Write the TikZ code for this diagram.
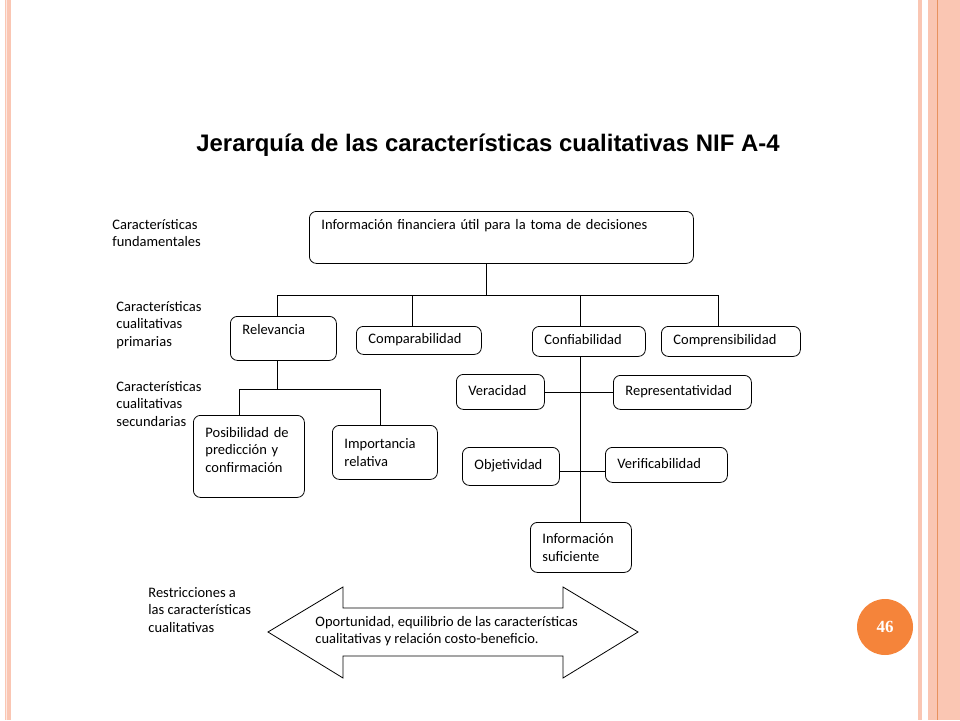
\documentclass[tikz,border=0pt]{standalone}
\usepackage{fontspec}
\setmainfont{Carlito}
\newfontfamily\titulo{Liberation Sans}
\newfontfamily\numero{Liberation Serif}
\definecolor{salmon}{HTML}{FAC6B3}
\definecolor{salmonosc}{HTML}{E8925F}
\definecolor{naranja}{HTML}{F5843A}
\tikzset{
  caja/.style={draw, rounded corners=7pt, anchor=north west, align=left, inner xsep=12pt, inner ysep=3pt},
  linea/.style={text height=10pt, text depth=3.5pt},
  etiqueta/.style={anchor=west, align=left, inner sep=0pt},
}

\begin{document}
\begin{tikzpicture}[x=1pt,y=-1pt,line width=0.8pt,font=\fontsize{14.5}{17.5}\selectfont]
\useasboundingbox (0,0) rectangle (960,720);

% bordes
\fill[salmon] (5,0) rectangle (11,720);
\draw[white!60!salmon] (6.5,0) -- (6.5,720);
\fill[salmon] (918,0) rectangle (922,720);
\fill[salmon] (928,0) rectangle (960,720);
\draw[salmonosc,line width=1pt] (937,0) -- (937,720);

\node[font=\titulo\bfseries\fontsize{23.9}{28}\selectfont] at (488,145) (titulo) {Jerarquía de las características cualitativas NIF A-4};

   \node[etiqueta] at (112,233) (fund) {Características\\fundamentales};
   \node[etiqueta] at (116,325) (prim) {Características\\cualitativas\\primarias};
   \node[etiqueta] at (116,404) (secu) {Características\\cualitativas\\secundarias};
   \node[etiqueta] at (148,610) (restr) {Restricciones a\\las características\\cualitativas};

   \node[caja, text width=360pt, minimum height=52pt, text height=10pt, text depth=25pt] at (309,211) (info) {Información financiera útil para la toma de decisiones};

   \node[caja, text width=82pt, minimum height=44pt, text height=10pt, text depth=17pt] at (230,316) (relev) {Relevancia};
   \node[caja, linea, text width=101pt, minimum height=28pt] at (356,326) (compar) {Comparabilidad};
   \node[caja, linea, text width=89pt, minimum height=30pt] at (532,326) (confia) {Confiabilidad};
   \node[caja, linea, text width=115pt, minimum height=30pt] at (661,326) (compren) {Comprensibilidad};

   \node[caja, text width=87pt, minimum height=82pt, text height=10pt, text depth=48pt] at (193,415) (posib) {Posibilidad de\\predicción y\\confirmación};
   \node[caja, text width=81pt, minimum height=54pt] at (332,425) (import) {Importancia\\relativa};

   \node[caja, linea, text width=64pt, minimum height=35pt] at (456,374) (verac) {Veracidad};
   \node[caja, linea, text width=114pt, minimum height=34pt] at (613,375) (repres) {Representatividad};
   \node[caja, linea, text width=73pt, minimum height=38pt] at (462,447) (objet) {Objetividad};
   \node[caja, linea, text width=98pt, minimum height=35pt] at (605,447) (verif) {Verificabilidad};
   \node[caja, text width=77pt, minimum height=50pt] at (530,522) (sufic) {Información\\suficiente};

    \coordinate (b1) at (277,295);
    \coordinate (b2) at (412,295);
    \coordinate (b3) at (580,295);
    \coordinate (b4) at (718,295);
    \coordinate (bm) at (486,295);

    \draw (info.south -| bm) -- (bm);
    \draw (b1) -- (b4);
    \draw (b1) -- (relev.north -| b1);
    \draw (b2) -- (compar.north -| b2);
    \draw (b3) -- (confia.north -| b3);
    \draw (b4) -- (compren.north -| b4);

    \coordinate (r1) at (239,389);
    \coordinate (r2) at (380,389);
    \coordinate (rm) at (277,389);

    \draw (relev.south -| rm) -- (rm);
    \draw (r1) -- (r2);
    \draw (r1) -- (posib.north -| r1);
    \draw (r2) -- (import.north -| r2);

    \draw (confia.south -| b3) -- (sufic.north -| b3);
    \draw (verac.east) -- (verac.east -| repres.west);
    \draw ([yshift=-5pt]objet.east) -- ([yshift=-5pt]objet.east -| verif.west);

  \draw (268,632) -- (343,587) -- (343,608) -- (563,608) -- (563,587) -- (638,632)
        -- (563,678) -- (563,656) -- (343,656) -- (343,678) -- cycle;
  \node[etiqueta] at (315,631) (oport) {Oportunidad, equilibrio de las características\\cualitativas y relación costo-beneficio.};

  \fill[naranja] (885,627) circle (28);
  \node[text=white, font=\numero\bfseries\fontsize{17}{20}\selectfont] at (885,627) (pag) {46};

\end{tikzpicture}
\end{document}
